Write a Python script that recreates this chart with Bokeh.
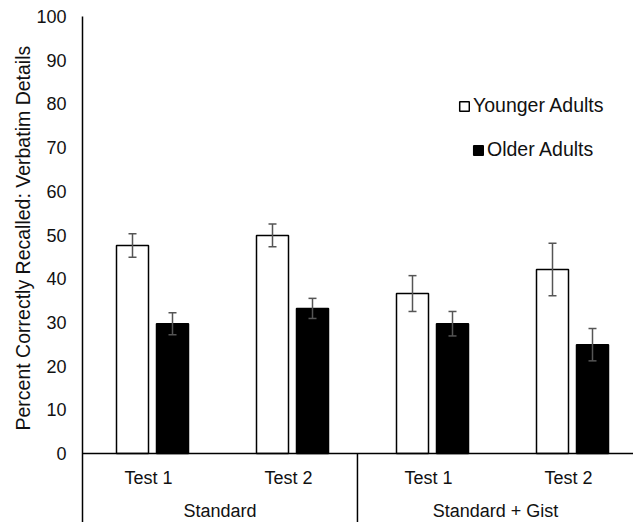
import math
from bokeh.plotting import figure
from bokeh.models import (FixedTicker, Span, Whisker, TeeHead, ColumnDataSource,
                          Legend, LegendItem, Title)
from bokeh.core.properties import value
from bokeh.embed import file_html
from bokeh.resources import INLINE

# ---- data ----
conditions = ["Standard", "Standard + Gist"]
tests = ["Test 1", "Test 2"]
younger = [47.6, 49.9, 36.6, 42.1]
younger_err = [2.7, 2.6, 4.1, 6.0]
older = [29.7, 33.2, 29.7, 24.9]
older_err = [2.5, 2.3, 2.8, 3.7]
y_ticks = [0, 10, 20, 30, 40, 50, 60, 70, 80, 90, 100]
y_title = "Percent Correctly Recalled: Verbatim Details"
series_names = ["Younger Adults", "Older Adults"]

# ---- layout constants ----
FONT = "Liberation Sans"
W, H = 633, 522
LEFT = 82
TOP = 16
PX_PER_CAT = 140.0
frame_w = W - LEFT
x_end = frame_w / PX_PER_CAT
px_per_unit_y = 4.37
frame_h = H - TOP
y_start = 100 - frame_h / px_per_unit_y

bar_w = 32 / PX_PER_CAT
off = 20 / PX_PER_CAT
sep_x = 1.964

n = len(younger)
centers = [i + 0.5 for i in range(n)]
xy = [c - off for c in centers]
xo = [c + off for c in centers]

p = figure(width=W, height=H, output_backend="svg", toolbar_location=None,
           x_range=(0, x_end), y_range=(y_start, 100), x_axis_location=None,
           min_border_left=LEFT, min_border_right=0, min_border_top=TOP, min_border_bottom=0)
p.outline_line_color = None
p.grid.visible = False
p.background_fill_color = "white"

# y axis
ax = p.yaxis[0]
ax.ticker = FixedTicker(ticks=y_ticks)
ax.major_tick_line_color = None
ax.minor_tick_line_color = None
ax.major_tick_in = 0
ax.major_tick_out = 0
ax.major_label_standoff = 16
ax.major_label_text_font = FONT
ax.major_label_text_font_size = "18px"
ax.major_label_text_color = "#111111"
ax.axis_line_color = "black"
ax.axis_line_width = 1.5

# y title (side title, placed along the axis)
p.add_layout(Title(text=y_title, align="left", offset=92, standoff=0,
                   text_font=FONT, text_font_size="19.5px", text_font_style="normal",
                   text_color="#111111"), "left")

src_y = ColumnDataSource(dict(x=xy, top=younger, up=[v + e for v, e in zip(younger, younger_err)],
                              lo=[v - e for v, e in zip(younger, younger_err)]))
src_o = ColumnDataSource(dict(x=xo, top=older, up=[v + e for v, e in zip(older, older_err)],
                              lo=[v - e for v, e in zip(older, older_err)]))

ry = p.vbar(x="x", top="top", bottom=0, width=bar_w, source=src_y,
            fill_color="white", line_color="black", line_width=1.5)
ro = p.vbar(x="x", top="top", bottom=0, width=bar_w, source=src_o,
            fill_color="black", line_color="black", line_width=1.5)

ERR = "#555555"
for s in (src_y, src_o):
    w = Whisker(base="x", upper="up", lower="lo", source=s, line_color=ERR, line_width=1.5,
                level="overlay",
                upper_head=TeeHead(size=8, line_color=ERR, line_width=1.5),
                lower_head=TeeHead(size=8, line_color=ERR, line_width=1.5))
    p.add_layout(w)

# baseline and separators
p.add_layout(Span(location=0, dimension="width", line_color="black", line_width=1.5))
p.segment(x0=[sep_x], y0=[0], x1=[sep_x], y1=[y_start], line_color="black", line_width=1.5)

# category labels
test_labels = [t for _ in conditions for t in tests]
p.text(x=centers, y=[-5.5] * n, text=test_labels, text_align="center", text_baseline="middle",
       text_font=value(FONT), text_font_size="18px", text_color="#111111", x_offset=-4)
group_x = [sep_x / 2, (sep_x + x_end) / 2]
p.text(x=group_x, y=[-13.1] * 2, text=conditions, text_align="center", text_baseline="middle",
       text_font=value(FONT), text_font_size="18px", text_color="#111111")

# legends
for name, r, loc in ((series_names[0], ry, (376, 405)), (series_names[1], ro, (390, 361))):
    lg = Legend(items=[LegendItem(label=name, renderers=[r])], location=loc,
                glyph_width=12, glyph_height=12, label_standoff=3, padding=0, margin=0,
                border_line_color=None, background_fill_alpha=0, spacing=0,
                label_text_font=FONT, label_text_font_size="19.5px", label_height=20,
                label_text_color="#111111")
    p.add_layout(lg)

open("out.html", "w").write(file_html(p, INLINE))
